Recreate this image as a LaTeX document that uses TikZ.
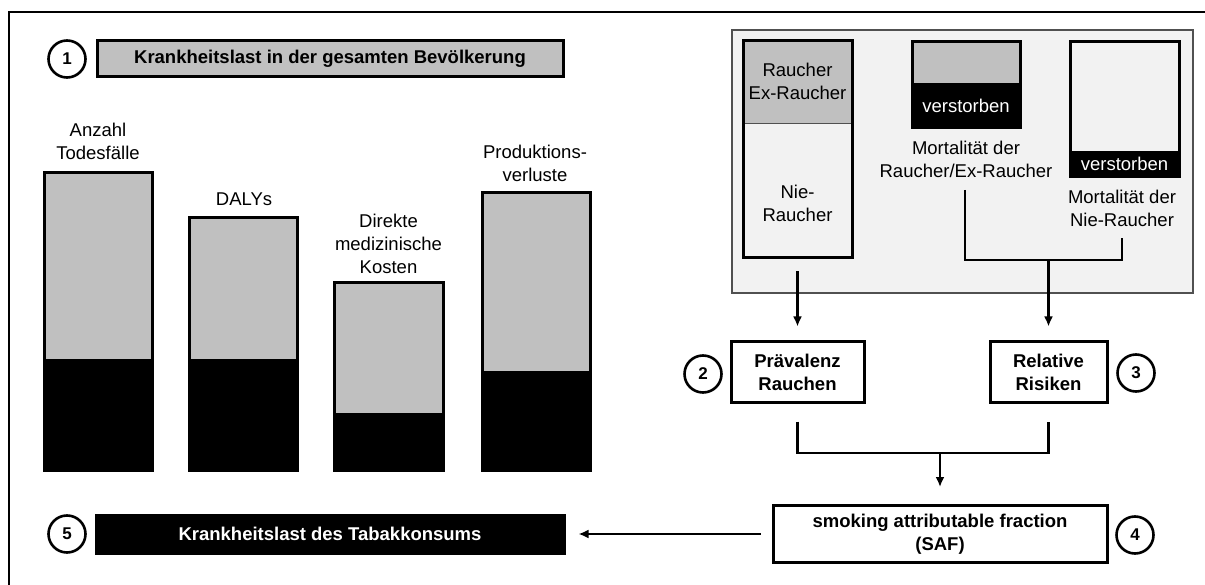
\documentclass[tikz,border=0pt]{standalone}
\usepackage{fontspec}
\setmainfont{Liberation Sans}
\usetikzlibrary{arrows.meta}
\definecolor{midgray}{RGB}{192,192,192}
\definecolor{panelgray}{RGB}{242,242,242}
\definecolor{panelline}{RGB}{80,80,80}
\begin{document}
\begin{tikzpicture}[x=1pt,y=-1pt,
  txt/.style={font=\fontsize{18.5}{23}\selectfont, align=center, inner sep=0pt},
  btxt/.style={font=\fontsize{18.5}{23}\selectfont\bfseries, align=center, inner sep=0pt},
  box/.style={draw=black, line width=3pt, inner sep=0pt},
  num/.style={circle, draw=black, line width=2.6pt, minimum size=37pt, inner sep=0pt, font=\fontsize{17}{20}\selectfont\bfseries},
  conn/.style={line width=2.6pt},
  arr/.style={line width=2.6pt, -{Latex[length=10pt,width=9pt]}},
  barline/.style={line width=3pt}
]
\useasboundingbox (0,0) rectangle (1205,585);
\fill[white] (0,0) rectangle (1205,585);
% outer frame (cropped)
\draw[line width=1.5pt] (9,585) -- (9,12) -- (1205,12);

% (1) title
\node[num] (c1) at (67,59) {1};
\node[box, fill=midgray, minimum width=466pt, minimum height=36pt, btxt] (t1) at (330,59) {Krankheitslast in der gesamten Bevölkerung};

% bars
\fill[midgray] (44,173) rectangle (152,359);
\fill[black] (44,359) rectangle (152,470);
\draw[barline] (44,173) rectangle (152,470);
\fill[midgray] (189,218) rectangle (297,359);
\fill[black] (189,359) rectangle (297,470);
\draw[barline] (189,218) rectangle (297,470);
\fill[midgray] (334,283) rectangle (443,413);
\fill[black] (334,413) rectangle (443,470);
\draw[barline] (334,283) rectangle (443,470);
\fill[midgray] (482,193) rectangle (590,371);
\fill[black] (482,371) rectangle (590,470);
\draw[barline] (482,193) rectangle (590,470);

\node[txt] (l1) at (98,141.5) {Anzahl\\Todesfälle};
\node[txt] (l2) at (244,199) {DALYs};
\node[txt] (l3) at (388.5,244) {Direkte\\medizinische\\Kosten};
\node[txt] (l4) at (535,163.5) {Produktions-\\verluste};

% (5)
\node[num] (c5) at (67,534) {5};
\node[box, fill=black, text=white, minimum width=468pt, minimum height=38pt, btxt] (t5) at (330,534) {Krankheitslast des Tabakkonsums};

% top-right panel
\node[draw=panelline, line width=1.8pt, fill=panelgray, minimum width=461pt, minimum height=263pt, inner sep=0pt] (panel) at (962.5,161.5) {};

% Raucher box
\fill[midgray] (743,41) rectangle (852,123);
\fill[panelgray] (743,123) rectangle (852,258);
\draw[line width=0.8pt, panelline] (743,123) -- (852,123);
\node[box, minimum width=109pt, minimum height=217pt] (rb) at (797.5,149.5) {};
\node[txt] (rbt) at (797.5,81.5) {Raucher\\Ex-Raucher};
\node[txt] (rbn) at (797.5,203.5) {Nie-\\Raucher};

% mortality smokers
\fill[midgray] (912,42) rectangle (1020,83);
\fill[black] (912,83) rectangle (1020,128);
\node[box, minimum width=108pt, minimum height=86pt] (ms) at (966,85) {};
\node[txt, text=white] (msv) at (966,106) {verstorben};
\node[txt] (msl) at (966,159.5) {Mortalität der\\Raucher/Ex-Raucher};

% mortality never smokers
\fill[panelgray] (1070,42) rectangle (1179,151);
\fill[black] (1070,151) rectangle (1179,177);
\node[box, minimum width=109pt, minimum height=135pt] (mn) at (1124.5,109.5) {};
\node[txt, text=white] (mnv) at (1124.5,164) {verstorben};
\node[txt] (mnl) at (1122,208) {Mortalität der\\Nie-Raucher};

% (2), (3)
\node[num] (c2) at (703,374) {2};
\node[box, fill=white, minimum width=133pt, minimum height=60pt, btxt] (prev) at (797.5,372) {Prävalenz\\Rauchen};
\node[box, fill=white, minimum width=117pt, minimum height=60pt, btxt] (rr) at (1048.5,372) {Relative\\Risiken};
\node[num] (c3) at (1136,373) {3};

% (4)
\node[box, fill=white, minimum width=334pt, minimum height=57pt, btxt] (saf) at (940,534) {smoking attributable fraction\\(SAF)};
\node[num] (c4) at (1135,535) {4};

% connectors
\draw[arr, shorten <=12pt, shorten >=14pt] (rb.south) -- (prev.north);
\coordinate (b1) at (965,190);
\coordinate (b2) at (1122,238);
\coordinate (j1) at (1048.5,260);
\draw[conn] (b1) |- (j1) -| (b2);
\draw[arr, shorten >=14pt] (j1) -- (j1 |- rr.north);

\coordinate (j2) at (940,453);
\draw[conn] ([yshift=-18pt]prev.south) |- (j2) -| ([yshift=-18pt]rr.south);
\draw[arr, shorten >=17pt] (j2) -- (saf.north);

\draw[line width=2.2pt, -{Latex[length=10pt,width=9pt]}, shorten <=11pt, shorten >=13pt] (saf.west) -- (t5.east);
\end{tikzpicture}
\end{document}
